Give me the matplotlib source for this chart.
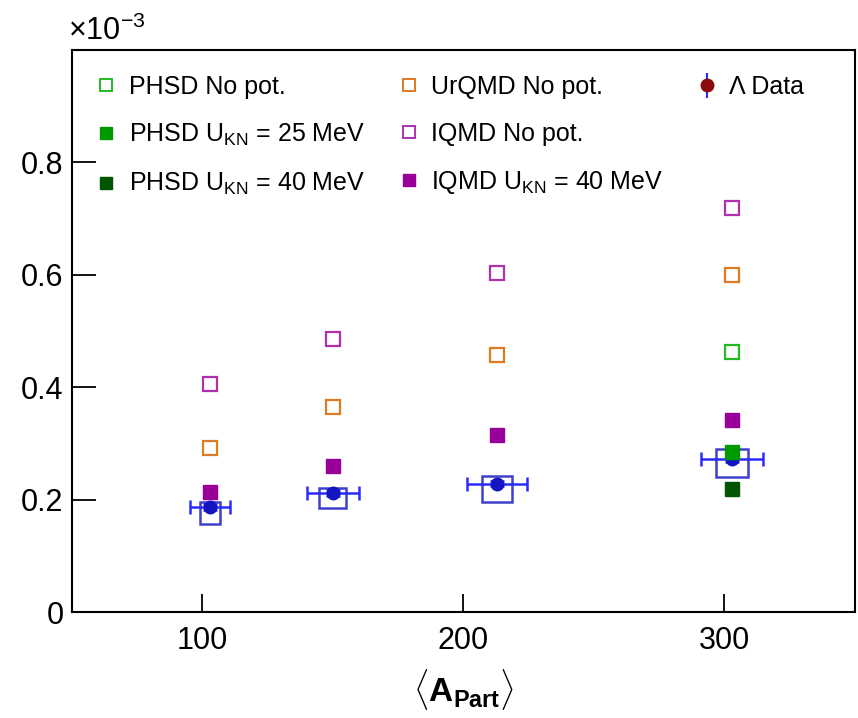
import matplotlib.pyplot as plt
from matplotlib.lines import Line2D
from matplotlib.patches import Rectangle

plt.rcParams['font.family'] = ['Liberation Sans', 'DejaVu Sans']
plt.rcParams['mathtext.fontset'] = 'custom'
plt.rcParams['mathtext.rm'] = 'Liberation Sans'
plt.rcParams['mathtext.bf'] = 'Liberation Sans:bold'
plt.rcParams['mathtext.it'] = 'Liberation Sans:italic'

# values in units of 1e-3
a_part = [103, 150, 213, 303]
data_y = [0.187, 0.212, 0.229, 0.272]
data_stat = [0.005, 0.005, 0.005, 0.005]
a_part_err = [7.5, 9.9, 11.5, 12.0]
sys_up = [0.009, 0.010, 0.013, 0.018]
sys_down = [0.029, 0.027, 0.032, 0.032]
sys_halfwidth = [3.8, 5.2, 5.8, 6.1]

iqmd_nopot = [0.406, 0.487, 0.603, 0.719]
urqmd_nopot = [0.292, 0.366, 0.457, 0.600]
iqmd_40 = [0.214, 0.260, 0.316, 0.342]
phsd_x = [303]
phsd_nopot = [0.463]
phsd_25 = [0.285]
phsd_40 = [0.220]

fig = plt.figure(figsize=(8.58, 7.18), dpi=100)
ax = fig.add_axes([0.0836, 0.147, 0.9126, 0.7834])

# systematic boxes
for x, y, up, dn, hw in zip(a_part, data_y, sys_up, sys_down, sys_halfwidth):
    ax.add_patch(Rectangle((x - hw, y - dn), 2 * hw, up + dn, fill=False,
                           edgecolor='#4040cc', lw=1.8, zorder=2))

ax.errorbar(a_part, data_y, xerr=a_part_err, yerr=data_stat, fmt='o',
            color='#1414c0', ecolor='#2a2aff', elinewidth=1.8, capsize=5,
            capthick=1.8, markersize=9, zorder=3)

ms = 10
ax.plot(a_part, iqmd_nopot, 's', ms=ms, mfc='white', mec='#b030b0', mew=1.6, zorder=4)
ax.plot(a_part, urqmd_nopot, 's', ms=ms, mfc='white', mec='#dd7a22', mew=1.6, zorder=4)
ax.plot(a_part, iqmd_40, 's', ms=ms, color='#990099', zorder=4)
ax.plot(phsd_x, phsd_nopot, 's', ms=ms, mfc='white', mec='#22bb22', mew=1.6, zorder=4)
ax.plot(phsd_x, phsd_25, 's', ms=ms, color='#009900', zorder=4)
ax.plot(phsd_x, phsd_40, 's', ms=ms, color='#005500', zorder=4)

ax.set_xlim(50, 350)
ax.set_ylim(0, 1.0)
ax.set_xticks([100, 200, 300])
ax.set_yticks([0, 0.2, 0.4, 0.6, 0.8])
ax.set_yticklabels(['0', '0.2', '0.4', '0.6', '0.8'])
ax.tick_params(axis='both', direction='in', labelsize=22, width=1.3)
ax.tick_params(axis='y', length=17, pad=6)
ax.tick_params(axis='x', length=13, pad=10)
for s in ax.spines.values():
    s.set_linewidth(1.5)

ax.text(-0.005, 1.005, r'$\times$10$^{-3}$', transform=ax.transAxes,
        fontsize=22, ha='left', va='bottom')
ax.set_xlabel(r'$\langle\mathbf{A}_{\mathbf{Part}}\rangle$', fontsize=24, labelpad=8)

lms = 8.5
blank = Line2D([], [], ls='none')
handles = [
    Line2D([], [], ls='none', marker='s', ms=lms, mfc='white', mec='#22bb22', mew=1.4),
    Line2D([], [], ls='none', marker='s', ms=lms, color='#009900'),
    Line2D([], [], ls='none', marker='s', ms=lms, color='#005500'),
    Line2D([], [], ls='none', marker='s', ms=lms, mfc='white', mec='#dd7a22', mew=1.4),
    Line2D([], [], ls='none', marker='s', ms=lms, mfc='white', mec='#b030b0', mew=1.4),
    Line2D([], [], ls='none', marker='s', ms=lms, color='#990099'),
    (Line2D([], [], ls='none', marker='|', ms=18, mew=1.5, color='#2a2aff'),
     Line2D([], [], ls='none', marker='o', ms=9, color='#8b0a0a')),
    blank, blank,
]
labels = ['PHSD No pot.', r'PHSD U$_{\mathrm{KN}}$ = 25 MeV', r'PHSD U$_{\mathrm{KN}}$ = 40 MeV',
          'UrQMD No pot.', 'IQMD No pot.', r'IQMD U$_{\mathrm{KN}}$ = 40 MeV',
          'Λ Data', ' ', ' ']
ax.legend(handles, labels, ncol=3, loc='upper left', bbox_to_anchor=(0.012, 0.982),
          frameon=False, fontsize=18, handlelength=0.8, handletextpad=0.5,
          columnspacing=1.35, labelspacing=0.92, borderaxespad=0.2)

fig.savefig('out.png', dpi=100)
